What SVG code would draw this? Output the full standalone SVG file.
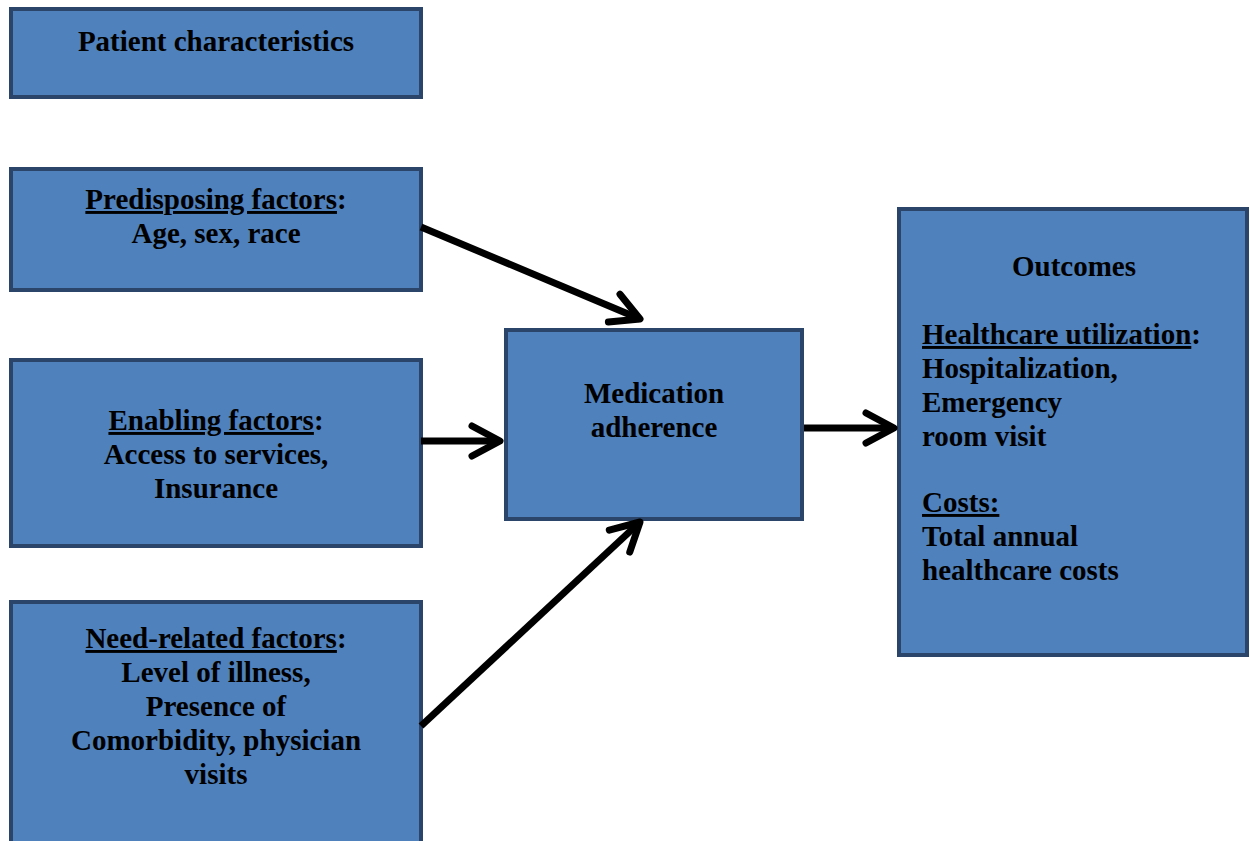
<svg xmlns="http://www.w3.org/2000/svg" width="1250" height="841" viewBox="0 0 1250 841">
<style>
.box{fill:#4F81BD;stroke:#2A4569;stroke-width:4}
text{font-family:"Liberation Serif","Times New Roman",serif;font-weight:bold;font-size:29px;fill:#000}
.c{text-anchor:middle}
.u{text-decoration:underline}
.conn line{stroke:#000;stroke-width:7;stroke-linecap:butt}
</style>
<defs>
<marker id="ah" markerUnits="userSpaceOnUse" viewBox="-40 -24 48 48" markerWidth="48" markerHeight="48" refX="0" refY="0" orient="auto">
<path d="M-28,-15 L0,0 L-28,15" fill="none" stroke="#000" stroke-width="7" stroke-linecap="round" stroke-linejoin="round"/>
</marker>
</defs>
<rect width="1250" height="841" fill="#fff"/>
<g id="patient">
<rect class="box" x="11" y="9" width="410" height="88"/>
<text class="c" x="216" y="51">Patient characteristics</text>
</g>
<g id="predisposing">
<rect class="box" x="11" y="169" width="410" height="121"/>
<text class="c" x="216" y="209"><tspan class="u">Predisposing factors</tspan>:</text>
<text class="c" x="216" y="243">Age, sex, race</text>
</g>
<g id="enabling">
<rect class="box" x="11" y="360" width="410" height="186"/>
<text class="c" x="216" y="430"><tspan class="u">Enabling factors</tspan>:</text>
<text class="c" x="216" y="464">Access to services,</text>
<text class="c" x="216" y="498">Insurance</text>
</g>
<g id="need">
<rect class="box" x="11" y="602" width="410" height="250"/>
<text class="c" x="216" y="648"><tspan class="u">Need-related factors</tspan>:</text>
<text class="c" x="216" y="682">Level of illness,</text>
<text class="c" x="216" y="716">Presence of</text>
<text class="c" x="216" y="750">Comorbidity, physician</text>
<text class="c" x="216" y="784">visits</text>
</g>
<g id="medication">
<rect class="box" x="506" y="330" width="296" height="189"/>
<text class="c" x="654" y="403">Medication</text>
<text class="c" x="654" y="437">adherence</text>
</g>
<g id="outcomes">
<rect class="box" x="899" y="209" width="348" height="446"/>
<text class="c" x="1074" y="276">Outcomes</text>
<text x="922" y="344"><tspan class="u">Healthcare utilization</tspan>:</text>
<text x="922" y="378">Hospitalization,</text>
<text x="922" y="412">Emergency</text>
<text x="922" y="446">room visit</text>
<text x="922" y="512" class="u">Costs:</text>
<text x="922" y="546">Total annual</text>
<text x="922" y="580">healthcare costs</text>
</g>
<g id="connectors" class="conn">
<line x1="421" y1="227" x2="640" y2="319" marker-end="url(#ah)"/>
<line x1="421" y1="441" x2="500" y2="441" marker-end="url(#ah)"/>
<line x1="421" y1="726" x2="640" y2="522" marker-end="url(#ah)"/>
<line x1="804" y1="428" x2="894" y2="428" marker-end="url(#ah)"/>
</g>
</svg>
